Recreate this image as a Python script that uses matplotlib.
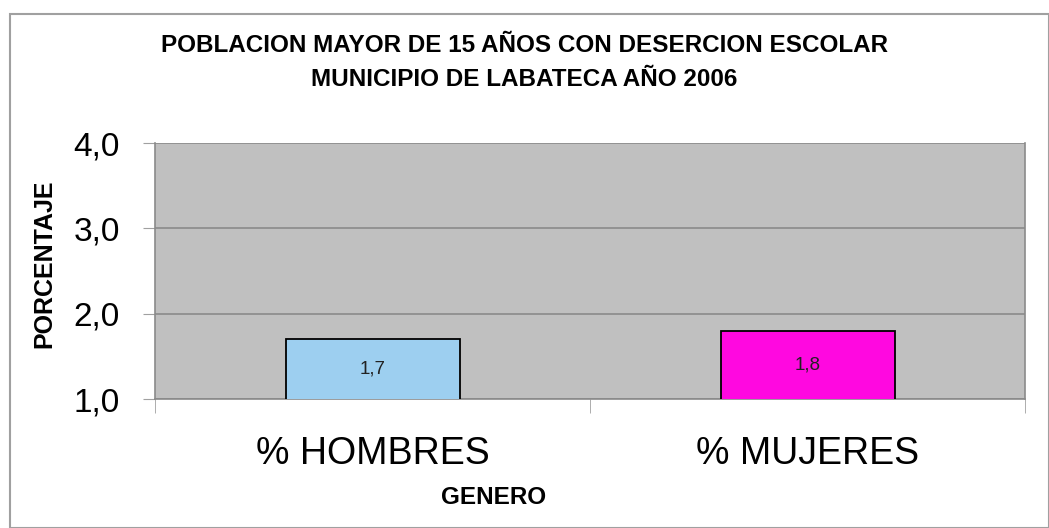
import matplotlib
matplotlib.use("Agg")
import matplotlib.pyplot as plt
from matplotlib.patches import Rectangle

# data
categories = ["% HOMBRES", "% MUJERES"]
values = [1.7, 1.8]
bar_colors = ["#9DCFF0", "#FF08E0"]
y_ticks = [1.0, 2.0, 3.0, 4.0]

plt.rcParams["font.family"] = ["Liberation Sans", "DejaVu Sans"]

fig = plt.figure(figsize=(10.49, 5.28), dpi=100)
ax = fig.add_axes([155 / 1049, 1 - 399 / 528, 870 / 1049, 256 / 528])

# chart area border
fig.patches.append(Rectangle((10 / 1049, 0), 1 - 10 / 1049, 1 - 14 / 528,
                             transform=fig.transFigure, fill=False,
                             edgecolor="#a0a0a0", linewidth=1.5))

x = list(range(len(categories)))
bars = ax.bar(x, values, width=0.4, color=bar_colors, edgecolor="black",
              linewidth=1.3, zorder=3)

for xi, v in zip(x, values):
    ax.text(xi, (1.0 + v) / 2, f"{v:.1f}".replace(".", ","), ha="center",
            va="center", fontsize=13.5, color="#222222", zorder=4)

ax.set_facecolor("#C0C0C0")
ax.set_xlim(-0.5, len(categories) - 0.5)
ax.set_ylim(1.0, 4.0)
ax.set_yticks(y_ticks)
ax.set_yticklabels([f"{t:.1f}".replace(".", ",") for t in y_ticks], fontsize=24)
ax.yaxis.grid(True, color="#8a8a8a", linewidth=1.2, zorder=1)
ax.set_axisbelow(True)

ax.set_xticks(x)
ax.set_xticklabels(categories, fontsize=27)
ax.set_xticks([-0.5, 0.5, 1.5], minor=True)
ax.tick_params(axis="x", which="major", length=0, pad=27)
ax.tick_params(axis="x", which="minor", length=10, color="#a0a0a0")
ax.tick_params(axis="y", length=8.5, color="#a0a0a0", pad=17)

for s in ax.spines.values():
    s.set_color("#8a8a8a")
    s.set_linewidth(1.2)
ax.spines["top"].set_visible(False)

fig.text(0.5, 1 - 45 / 528, "POBLACION MAYOR DE 15 AÑOS CON DESERCION ESCOLAR",
         ha="center", va="center", fontsize=17.5, fontweight="bold")
fig.text(0.5, 1 - 80 / 528, "MUNICIPIO DE LABATECA AÑO 2006",
         ha="center", va="center", fontsize=17.5, fontweight="bold")
fig.text(44 / 1049, 1 - 264 / 528, "PORCENTAJE", rotation=90, ha="center",
         va="center", fontsize=18, fontweight="bold")
fig.text(494 / 1049, 1 - 497 / 528, "GENERO", ha="center", va="center",
         fontsize=17.5, fontweight="bold")

fig.savefig("out.png", dpi=100)
